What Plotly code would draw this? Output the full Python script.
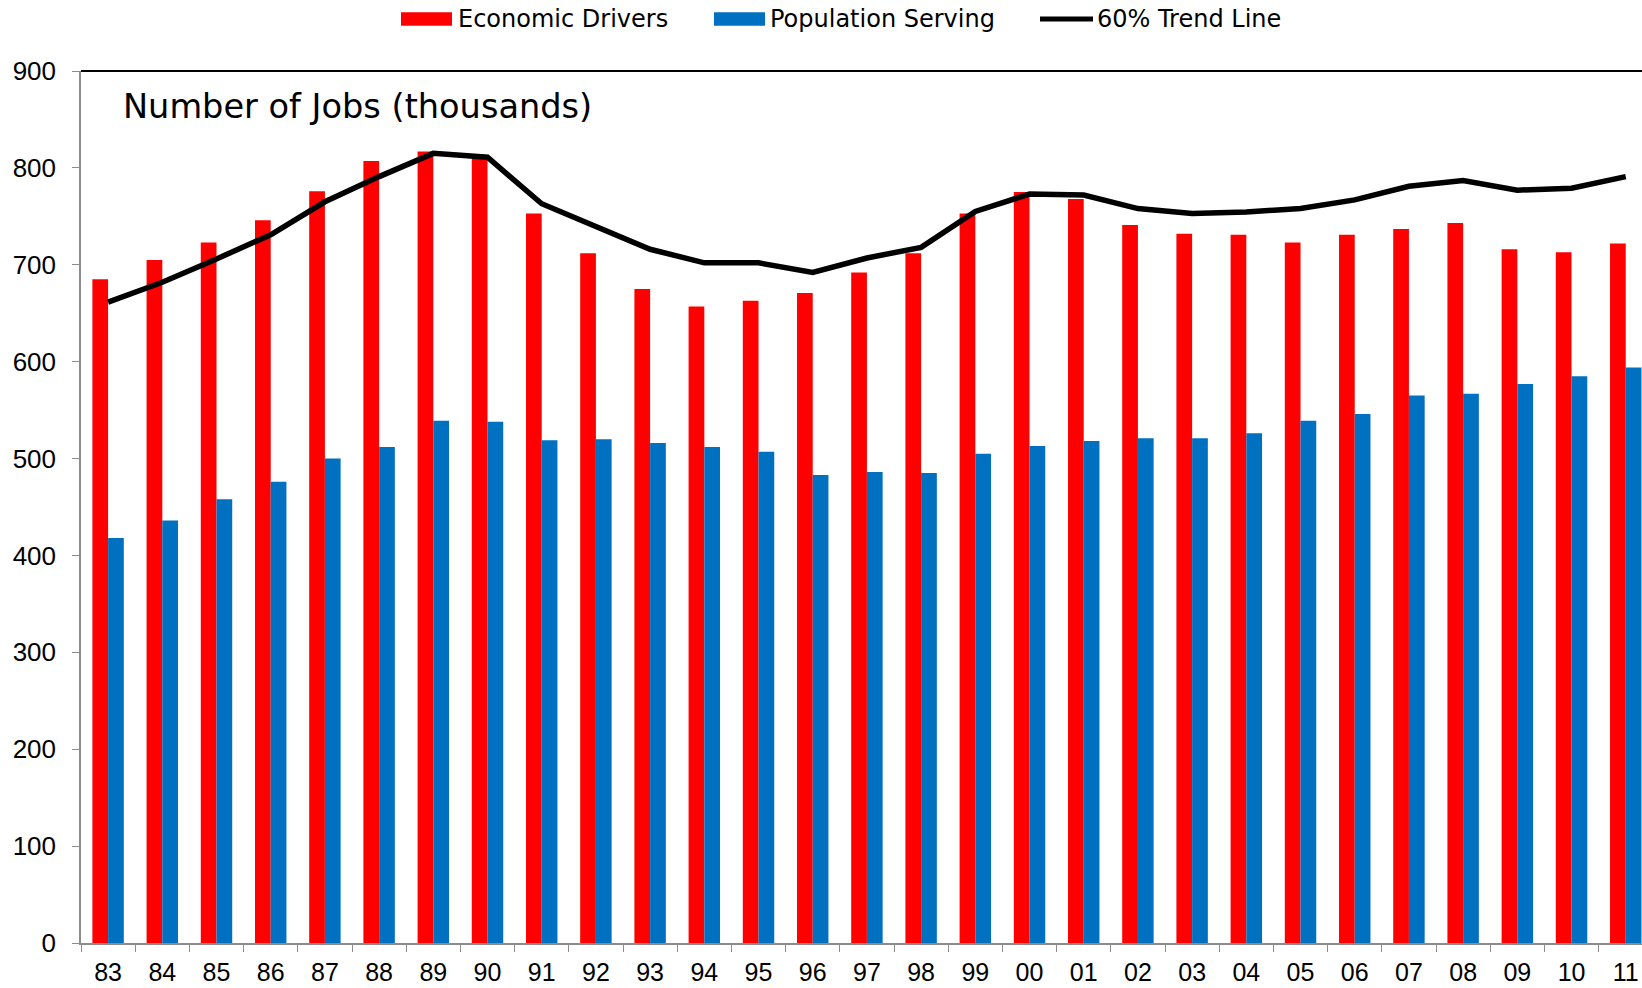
import plotly.graph_objects as go

# ---- data ----
years = ['83', '84', '85', '86', '87', '88', '89', '90', '91', '92', '93', '94', '95', '96',
         '97', '98', '99', '00', '01', '02', '03', '04', '05', '06', '07', '08', '09', '10', '11']
economic_drivers = [685, 705, 723, 746, 776, 807, 817, 810, 753, 712, 675, 657, 663, 671,
                    692, 712, 753, 775, 768, 741, 732, 731, 723, 731, 737, 743, 716, 713, 722]
population_serving = [418, 436, 458, 476, 500, 512, 539, 538, 519, 520, 516, 512, 507, 483,
                      486, 485, 505, 513, 518, 521, 521, 526, 539, 546, 565, 567, 577, 585, 594]
trend_line = [661.5, 682, 706, 731, 765, 791, 815, 811, 763, 739, 716, 702, 702, 692,
              707, 718, 755, 773, 772, 758, 753, 754.5, 758, 767, 781, 787, 777, 779, 791]
y_ticks = [0, 100, 200, 300, 400, 500, 600, 700, 800, 900]

RED = '#FF0000'
BLUE = '#0070C0'
GRAY = '#8C8C8C'

# ---- geometry (window pixels; the page body margin is removed below) ----
W, H = 1642, 988
PLOT_L, PLOT_T, PLOT_B, PLOT_R = 81, 71, 943, 1642   # plot area in window pixels
ML, MT = PLOT_L, PLOT_T
MB = H - PLOT_B
MR = W - PLOT_R
PW = PLOT_R - PLOT_L
PH = PLOT_B - PLOT_T


def px(x):
    return (x - PLOT_L) / PW


def py(y):
    return (PLOT_B - y) / PH


fig = go.Figure()
fig.add_trace(go.Bar(x=years, y=economic_drivers, name='Economic Drivers',
                     marker=dict(color=RED, line=dict(width=0))))
fig.add_trace(go.Bar(x=years, y=population_serving, name='Population Serving',
                     marker=dict(color=BLUE, line=dict(width=0))))
fig.add_trace(go.Scatter(x=years, y=trend_line, name='60% Trend Line', mode='lines',
                         line=dict(color='black', width=5.5)))

tick_family = 'Liberation Sans, Arial, sans-serif'
label_font = 'DejaVu Sans, Liberation Sans, sans-serif'

fig.update_layout(
    width=W, height=H,
    margin=dict(l=ML, r=MR, t=MT, b=MB, pad=0, autoexpand=False),
    paper_bgcolor='white', plot_bgcolor='white',
    showlegend=False,
    barmode='group', bargap=0.42, bargroupgap=0,
    xaxis=dict(type='category', range=[-0.5, 28.3], showgrid=False, zeroline=False,
               showline=True, linecolor=GRAY, linewidth=1.5,
               ticks='outside', tickson='boundaries', ticklen=7, tickwidth=1.2, tickcolor=GRAY,
               ticklabelstandoff=6,
               tickfont=dict(family=tick_family, size=25, color='black')),
    yaxis=dict(range=[0, 900], tickvals=y_ticks, showgrid=False, zeroline=False,
               showline=True, linecolor=GRAY, linewidth=1.5,
               ticks='outside', ticklen=7, tickwidth=1.2, tickcolor=GRAY,
               ticklabelstandoff=11,
               tickfont=dict(family=tick_family, size=26, color='black')),
)

shapes = [
    # top frame line
    dict(type='line', xref='paper', yref='paper', x0=0, x1=1, y0=1, y1=1,
         line=dict(color='black', width=2)),
    # legend swatches
    dict(type='rect', xref='paper', yref='paper', x0=px(401), x1=px(452), y0=py(25.7), y1=py(12.3),
         fillcolor=RED, line=dict(width=0)),
    dict(type='rect', xref='paper', yref='paper', x0=px(714), x1=px(765), y0=py(25.7), y1=py(12.3),
         fillcolor=BLUE, line=dict(width=0)),
    dict(type='line', xref='paper', yref='paper', x0=px(1040), x1=px(1093), y0=py(19), y1=py(19),
         line=dict(color='black', width=5)),
]
fig.update_layout(shapes=shapes)

legend_items = [('Economic Drivers', 458), ('Population Serving', 770), ('60% Trend Line', 1097)]
annotations = []
for text, x0 in legend_items:
    annotations.append(dict(text=text, xref='paper', yref='paper', x=px(x0), y=py(19.0),
                            xanchor='left', yanchor='middle', showarrow=False,
                            borderpad=0, borderwidth=0,
                            font=dict(family=label_font, size=24, color='black')))
annotations.append(dict(text='Number of Jobs (thousands)', xref='paper', yref='paper',
                        x=px(123), y=py(106.5), xanchor='left', yanchor='middle',
                        showarrow=False, borderpad=0, borderwidth=0,
                        font=dict(family=label_font, size=33.6, color='black')))
fig.update_layout(annotations=annotations)

fig.write_html('out.html',
               config={'displayModeBar': False},
               post_script="document.body.style.margin='0';document.body.style.overflow='hidden';")
